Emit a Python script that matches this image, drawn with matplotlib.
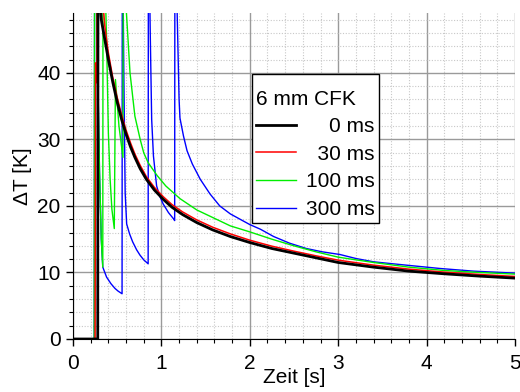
import matplotlib
matplotlib.use("Agg")
import matplotlib.pyplot as plt
import matplotlib.ticker as ticker

plt.rcParams["font.family"] = ["Liberation Sans", "DejaVu Sans"]
plt.rcParams["font.size"] = 15

# 0 ms pulse
t_0ms = [0, 0.28, 0.283, 0.30, 0.32, 0.36, 0.40, 0.45, 0.50, 0.55, 0.60, 0.65,
         0.70, 0.76, 0.83, 0.92, 1.02, 1.12, 1.24, 1.40, 1.58, 1.78, 2.0, 2.25,
         2.5, 2.75, 3.0, 3.4, 3.8, 4.2, 4.6, 5.0]
T_0ms = [0, 0, 60, 52, 48, 45, 42, 38.6, 35.6, 33.0, 30.8, 28.9,
         27.3, 25.6, 24.0, 22.4, 21.0, 19.8, 18.7, 17.5, 16.4, 15.4, 14.5, 13.6,
         12.9, 12.2, 11.5, 10.8, 10.2, 9.8, 9.45, 9.15]

# 30 ms pulse
t_30ms = [0, 0.25, 0.255, 0.27, 0.275, 0.33, 0.36, 0.40, 0.45, 0.50, 0.55,
          0.60, 0.65, 0.70, 0.76, 0.83, 0.92, 1.02, 1.12, 1.24, 1.40, 1.58,
          1.78, 2.0, 2.25, 2.5, 2.75, 3.0, 3.4, 3.8, 4.2, 4.6, 5.0]
T_30ms = [0, 0, 41.5, 38.5, 65, 52, 47, 43, 39.3, 36.3, 33.7,
          31.4, 29.5, 27.8, 26.1, 24.4, 22.8, 21.4, 20.2, 19.1, 17.9, 16.8,
          15.8, 14.85, 13.95, 13.2, 12.5, 11.85, 11.1, 10.5, 10.05, 9.7, 9.4]

# 100 ms pulse
t_100ms = [0, 0.24, 0.245, 0.28, 0.30, 0.32, 0.337, 0.34, 0.38, 0.40, 0.42,
           0.44, 0.467, 0.48, 0.52, 0.565, 0.57, 0.60, 0.645, 0.70, 0.76, 0.80,
           0.85, 0.95, 1.05, 1.21, 1.40, 1.59, 1.78, 2.0, 2.25, 2.5, 2.75, 3.0,
           3.4, 3.8, 4.2, 4.6, 5.0]
T_100ms = [0, 0, 65, 40, 25, 15, 10.8, 65, 45, 31, 24,
           19.5, 16.6, 39, 32, 27.3, 65, 50, 40, 33.5, 30, 28,
           26.5, 24.6, 23.0, 21.1, 19.4, 18.2, 17.0, 16.1, 15.0, 14.0, 13.1, 12.3,
           11.5, 10.8, 10.3, 10.0, 9.75]

# 300 ms pulse
t_300ms = [0, 0.24, 0.245, 0.28, 0.30, 0.32, 0.337, 0.38, 0.43, 0.475, 0.51,
           0.555, 0.558, 0.575, 0.59, 0.607, 0.64, 0.675, 0.72, 0.758, 0.80,
           0.85, 0.853, 0.875, 0.89, 0.91, 0.946, 0.98, 1.02, 1.08, 1.135, 1.15,
           1.153, 1.18, 1.20, 1.21, 1.25, 1.29, 1.35, 1.44, 1.55, 1.66, 1.78,
           1.89, 2.0, 2.12, 2.27, 2.45, 2.64, 2.82, 3.02, 3.2, 3.4, 3.77, 4.15,
           4.53, 5.0]
T_300ms = [0, 0, 65, 40, 25, 15, 10.8, 9.3, 8.3, 7.6, 7.2,
           6.8, 65, 40, 22, 17.3, 15.8, 14.6, 13.4, 12.6, 11.9,
           11.3, 65, 45, 33, 27.5, 23, 21.5, 20.3, 19.0, 18.1, 17.8,
           65, 48, 36, 33.2, 30.5, 28.3, 26.3, 24.0, 21.8, 20.0, 18.8,
           18.0, 17.2, 16.5, 15.4, 14.4, 13.6, 13.1, 12.7, 12.1, 11.6, 11.1, 10.6,
           10.2, 9.9]

labels = ["0 ms", "30 ms", "100 ms", "300 ms"]
label_pad = ["    ", "  ", "", ""]

fig = plt.figure(figsize=(5.2, 3.92), dpi=100)
ax = fig.add_axes([73 / 520, 53 / 392, 442 / 520, 326 / 392])

ax.plot(t_300ms, T_300ms, c="#0000ff", lw=1.0, zorder=2.1,
        label=label_pad[3] + labels[3])
ax.plot(t_100ms, T_100ms, c="#00ee00", lw=1.0, zorder=2.2,
        label=label_pad[2] + labels[2])
ax.plot(t_30ms, T_30ms, c="#ff0000", lw=1.1, zorder=2.3,
        label=label_pad[1] + labels[1])
ax.plot(t_0ms, T_0ms, c="black", lw=2.0, zorder=2.4,
        label=label_pad[0] + labels[0])

ax.set_xlim(0, 5)
ax.set_ylim(0, 49)
ax.xaxis.set_major_locator(ticker.MultipleLocator(1))
ax.xaxis.set_minor_locator(ticker.MultipleLocator(0.2))
ax.yaxis.set_major_locator(ticker.MultipleLocator(10))
ax.yaxis.set_minor_locator(ticker.MultipleLocator(2))
ax.grid(True, which="major", color="#9a9a9a", lw=1.0, ls="-")
ax.grid(True, which="minor", color="#c8c8c8", lw=0.8, ls=(0, (1, 1.5)))
ax.set_axisbelow(True)
ax.tick_params(which="major", direction="out", length=5, width=1)
ax.tick_params(which="minor", direction="out", length=3, width=0.8)
ax.tick_params(axis="x", which="major", pad=6)
ax.tick_params(axis="y", which="major", pad=4)
ax.spines["top"].set_visible(False)
ax.spines["right"].set_visible(False)

ax.set_xlabel("Zeit [s]", labelpad=-4)
ax.set_ylabel("ΔT [K]", labelpad=4)

handles, labs = ax.get_legend_handles_labels()
handles, labs = handles[::-1], labs[::-1]
leg = ax.legend(handles, labs, title=" \n6 mm CFK", alignment="left",
                loc="upper left", bbox_to_anchor=(0.405, 0.813),
                borderaxespad=0, frameon=True, fancybox=False,
                edgecolor="black", framealpha=1, handlelength=1.9,
                handletextpad=0.5, labelspacing=0.41, borderpad=0.2,
                title_fontsize=15, fontsize=15)
leg.get_title().set_linespacing(0.5)
leg.get_frame().set_linewidth(1.0)

plt.savefig("out.png", dpi=100)
